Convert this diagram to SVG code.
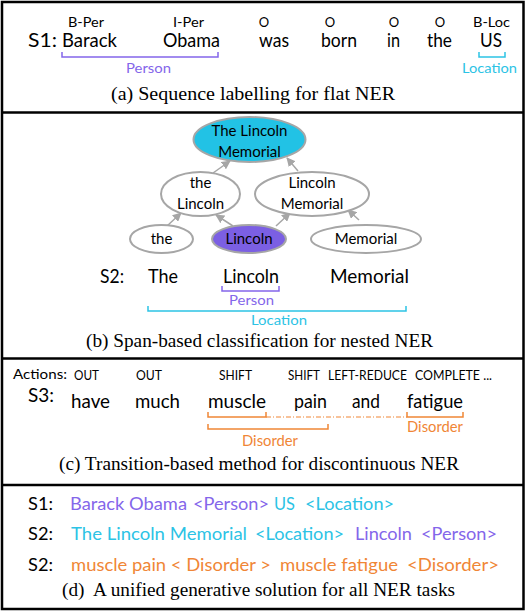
<svg xmlns="http://www.w3.org/2000/svg" width="526" height="612" viewBox="0 0 526 612">
<style>
.w{font-family:Lato,"Noto Sans",sans-serif;font-size:19px;fill:#000}
.s{font-family:Lato,"Noto Sans",sans-serif;font-size:13px;fill:#000}
.n{font-family:Lato,"Noto Sans",sans-serif;font-size:15px;fill:#000;text-anchor:middle}
.l{font-family:Lato,"Noto Sans",sans-serif;font-size:14px}
.d{font-family:Lato,"Noto Sans",sans-serif;font-size:17px}
.cap{font-family:"Liberation Serif","Times New Roman",serif;font-size:19px;fill:#000}
.pu{fill:#8466EA}
.cy{fill:#2CC3E5}
.or{fill:#F08636}
.br{fill:none;stroke-width:1.5}
.ell{stroke:#A6A6A6;stroke-width:2}
.arr{stroke:#A6A6A6;stroke-width:1.5;fill:none;marker-end:url(#ah)}
</style>
<defs>
<marker id="ah" viewBox="0 0 10 10" refX="9" refY="5" markerWidth="9" markerHeight="9" markerUnits="userSpaceOnUse" orient="auto">
<path d="M0,0 L10,5 L0,10 z" fill="#A6A6A6"/>
</marker>
</defs>
<rect x="2" y="2" width="521.5" height="607" fill="#fff" stroke="#000" stroke-width="2.5"/>
<g id="dividers" stroke="#000" stroke-width="2.5">
<line x1="2" y1="112.5" x2="523.5" y2="112.5"/>
<line x1="2" y1="358.5" x2="523.5" y2="358.5"/>
<line x1="2" y1="485" x2="523.5" y2="485"/>
</g>

<g id="panel-a">
<text class="s" x="68" y="27" textLength="36" lengthAdjust="spacingAndGlyphs">B-Per</text>
<text class="s" x="173" y="27" textLength="31" lengthAdjust="spacingAndGlyphs">I-Per</text>
<text class="s" x="264" y="27" text-anchor="middle">O</text>
<text class="s" x="330" y="27" text-anchor="middle">O</text>
<text class="s" x="394" y="27" text-anchor="middle">O</text>
<text class="s" x="440" y="27" text-anchor="middle">O</text>
<text class="s" x="473" y="27" textLength="37" lengthAdjust="spacingAndGlyphs">B-Loc</text>
<text class="w" x="28" y="47" textLength="29" lengthAdjust="spacingAndGlyphs">S1:</text>
<text class="w" x="62" y="47" textLength="55" lengthAdjust="spacingAndGlyphs">Barack</text>
<text class="w" x="163" y="47" textLength="57" lengthAdjust="spacingAndGlyphs">Obama</text>
<text class="w" x="259" y="47" textLength="30" lengthAdjust="spacingAndGlyphs">was</text>
<text class="w" x="321" y="47" textLength="36" lengthAdjust="spacingAndGlyphs">born</text>
<text class="w" x="387" y="47" textLength="13" lengthAdjust="spacingAndGlyphs">in</text>
<text class="w" x="427" y="47" textLength="25" lengthAdjust="spacingAndGlyphs">the</text>
<text class="w" x="480" y="47" textLength="22" lengthAdjust="spacingAndGlyphs">US</text>
<path class="br" stroke="#8466EA" d="M62,52 V57 H218 V52"/>
<text class="l pu" x="126" y="73" textLength="45" lengthAdjust="spacingAndGlyphs">Person</text>
<path class="br" stroke="#2CC3E5" d="M479,52 V57 H505 V52"/>
<text class="l cy" x="462" y="73" textLength="55" lengthAdjust="spacingAndGlyphs">Location</text>
<text class="cap" x="111" y="100" textLength="284" lengthAdjust="spacingAndGlyphs">(a) Sequence labelling for flat NER</text>
</g>

<g id="connectors">
<line class="arr" x1="213" y1="173" x2="230" y2="161"/>
<line class="arr" x1="298" y1="171" x2="287" y2="158"/>
<line class="arr" x1="167" y1="226" x2="181" y2="213"/>
<line class="arr" x1="233" y1="226" x2="216" y2="215"/>
<line class="arr" x1="276" y1="226" x2="290" y2="213"/>
<line class="arr" x1="359" y1="220" x2="348" y2="210"/>
</g>

<g id="node-the-lincoln-memorial">
<ellipse class="ell" cx="249.5" cy="139.5" rx="56" ry="22.5" fill="#22C2E5"/>
<text class="n" x="249.5" y="136">The Lincoln</text>
<text class="n" x="249.5" y="157">Memorial</text>
</g>
<g id="node-the-lincoln">
<ellipse class="ell" cx="200.5" cy="194" rx="39.5" ry="22" fill="#fff"/>
<text class="n" x="200.5" y="188">the</text>
<text class="n" x="200.5" y="209">Lincoln</text>
</g>
<g id="node-lincoln-memorial">
<ellipse class="ell" cx="312" cy="194" rx="57" ry="22" fill="#fff"/>
<text class="n" x="312" y="188">Lincoln</text>
<text class="n" x="312" y="209">Memorial</text>
</g>
<g id="node-the">
<ellipse class="ell" cx="161.5" cy="239" rx="31.5" ry="14" fill="#fff"/>
<text class="n" x="161.5" y="244">the</text>
</g>
<g id="node-lincoln">
<ellipse class="ell" cx="249" cy="239" rx="37" ry="14" fill="#7B5FE3"/>
<text class="n" x="249" y="244">Lincoln</text>
</g>
<g id="node-memorial">
<ellipse class="ell" cx="366" cy="239" rx="55" ry="14" fill="#fff"/>
<text class="n" x="366" y="244">Memorial</text>
</g>

<g id="panel-b">
<text class="w" x="100" y="283" textLength="24" lengthAdjust="spacingAndGlyphs">S2:</text>
<text class="w" x="148" y="283" textLength="30" lengthAdjust="spacingAndGlyphs">The</text>
<text class="w" x="223" y="283" textLength="56" lengthAdjust="spacingAndGlyphs">Lincoln</text>
<text class="w" x="330" y="283" textLength="79" lengthAdjust="spacingAndGlyphs">Memorial</text>
<path class="br" stroke="#8466EA" d="M222,286 V291 H279 V286"/>
<text class="l pu" x="229" y="305" textLength="45" lengthAdjust="spacingAndGlyphs">Person</text>
<path class="br" stroke="#2CC3E5" d="M148,306 V311 H406 V306"/>
<text class="l cy" x="251" y="325" textLength="56" lengthAdjust="spacingAndGlyphs">Location</text>
<text class="cap" x="86" y="347" textLength="347" lengthAdjust="spacingAndGlyphs">(b) Span-based classification for nested NER</text>
</g>

<g id="panel-c">
<text class="s" x="13" y="379" style="font-size:14px" textLength="54" lengthAdjust="spacingAndGlyphs">Actions:</text>
<text class="s" x="74" y="380" textLength="25" lengthAdjust="spacingAndGlyphs">OUT</text>
<text class="s" x="136" y="380" textLength="26" lengthAdjust="spacingAndGlyphs">OUT</text>
<text class="s" x="219" y="380" textLength="33" lengthAdjust="spacingAndGlyphs">SHIFT</text>
<text class="s" x="288" y="380" textLength="32" lengthAdjust="spacingAndGlyphs">SHIFT</text>
<text class="s" x="328" y="380" textLength="79" lengthAdjust="spacingAndGlyphs">LEFT-REDUCE</text>
<text class="s" x="415" y="380" textLength="77" lengthAdjust="spacingAndGlyphs">COMPLETE ...</text>
<text class="w" x="28" y="402" textLength="26" lengthAdjust="spacingAndGlyphs">S3:</text>
<text class="w" x="71" y="408" textLength="39" lengthAdjust="spacingAndGlyphs">have</text>
<text class="w" x="135" y="408" textLength="45" lengthAdjust="spacingAndGlyphs">much</text>
<text class="w" x="208" y="408" textLength="58" lengthAdjust="spacingAndGlyphs">muscle</text>
<text class="w" x="294" y="408" textLength="33" lengthAdjust="spacingAndGlyphs">pain</text>
<text class="w" x="352" y="408" textLength="28" lengthAdjust="spacingAndGlyphs">and</text>
<text class="w" x="407" y="408" textLength="56" lengthAdjust="spacingAndGlyphs">fatigue</text>
<path class="br" stroke="#F08636" d="M208,412 V417 H266 V412"/>
<line x1="266" y1="417" x2="407" y2="417" stroke="#F08636" stroke-width="1.2" stroke-dasharray="5 2 1 2"/>
<path class="br" stroke="#F08636" d="M407,412 V417 H463 V412"/>
<text class="l or" x="407" y="432" style="font-size:15px" textLength="56" lengthAdjust="spacingAndGlyphs">Disorder</text>
<path class="br" stroke="#F08636" d="M208,424 V429 H328 V424"/>
<text class="l or" x="242" y="446" style="font-size:15px" textLength="56" lengthAdjust="spacingAndGlyphs">Disorder</text>
<text class="cap" x="59" y="470" textLength="400" lengthAdjust="spacingAndGlyphs">(c) Transition-based method for discontinuous NER</text>
</g>

<g id="panel-d">
<text class="d" x="28" y="510" textLength="25" lengthAdjust="spacingAndGlyphs">S1:</text>
<text class="d pu" x="70" y="510" textLength="117" lengthAdjust="spacingAndGlyphs">Barack Obama</text>
<text class="d pu" x="193" y="510" textLength="76" lengthAdjust="spacingAndGlyphs">&lt;Person&gt;</text>
<text class="d cy" x="274" y="510" textLength="21" lengthAdjust="spacingAndGlyphs">US</text>
<text class="d cy" x="305" y="510" textLength="89" lengthAdjust="spacingAndGlyphs">&lt;Location&gt;</text>
<text class="d" x="28" y="540" textLength="25" lengthAdjust="spacingAndGlyphs">S2:</text>
<text class="d cy" x="71" y="540" textLength="176" lengthAdjust="spacingAndGlyphs">The Lincoln Memorial</text>
<text class="d cy" x="255" y="540" textLength="89" lengthAdjust="spacingAndGlyphs">&lt;Location&gt;</text>
<text class="d pu" x="355" y="540" textLength="57" lengthAdjust="spacingAndGlyphs">Lincoln</text>
<text class="d pu" x="421" y="540" textLength="76" lengthAdjust="spacingAndGlyphs">&lt;Person&gt;</text>
<text class="d" x="28" y="571" textLength="25" lengthAdjust="spacingAndGlyphs">S2:</text>
<text class="d or" x="71" y="571" textLength="200" lengthAdjust="spacingAndGlyphs">muscle pain &lt; Disorder &gt;</text>
<text class="d or" x="280" y="571" textLength="118" lengthAdjust="spacingAndGlyphs">muscle fatigue</text>
<text class="d or" x="407" y="571" textLength="92" lengthAdjust="spacingAndGlyphs">&lt;Disorder&gt;</text>
<text class="cap" x="62" y="596" textLength="393" lengthAdjust="spacingAndGlyphs" xml:space="preserve">(d)  A unified generative solution for all NER tasks</text>
</g>
</svg>
